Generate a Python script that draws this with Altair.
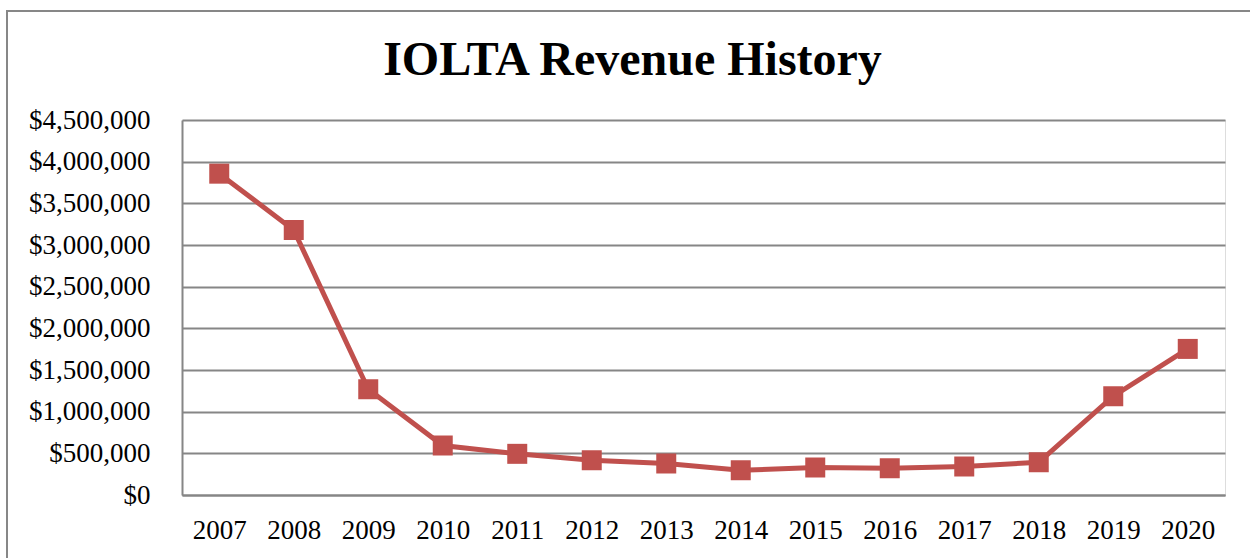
import altair as alt
import pandas as pd

years = ["2007", "2008", "2009", "2010", "2011", "2012", "2013",
         "2014", "2015", "2016", "2017", "2018", "2019", "2020"]
revenue = [3856000, 3180000, 1269000, 594000, 494000, 417000, 378000,
           297000, 330000, 321000, 342000, 393000, 1185000, 1753000]
y_ticks = [0, 500000, 1000000, 1500000, 2000000, 2500000,
           3000000, 3500000, 4000000, 4500000]

df = pd.DataFrame({"year": years, "revenue": revenue})

RED = "#C0504D"
GRID = "#868686"
FONT = "Liberation Serif"

base = alt.Chart(df).encode(
    x=alt.X("year:O", sort=years,
            scale=alt.Scale(type="point", padding=0.5),
            axis=alt.Axis(title=None, labelAngle=0, ticks=False,
                          domainColor=GRID, domainWidth=2,
                          labelFont=FONT, labelFontSize=27,
                          labelColor="#000000", labelPadding=22)),
    y=alt.Y("revenue:Q",
            scale=alt.Scale(domain=[0, 4500000], nice=False),
            axis=alt.Axis(title=None, values=y_ticks, format="$,.0f",
                          ticks=False, grid=True, gridColor=GRID,
                          gridWidth=2, domainColor=GRID, domainWidth=2,
                          labelFont=FONT, labelFontSize=27,
                          labelColor="#000000", labelPadding=32)),
)

line = base.mark_line(color=RED, strokeWidth=5)
points = base.mark_point(shape="square", size=400, filled=True,
                         color=RED, opacity=1)

frame_df = pd.DataFrame({"k": [0]})
left_border = alt.Chart(frame_df).mark_rule(
    color="#878787", strokeWidth=2).encode(
    x=alt.value(-175), y=alt.value(-109), y2=alt.value(460))
top_border = alt.Chart(frame_df).mark_rule(
    color="#878787", strokeWidth=2).encode(
    x=alt.value(-176), x2=alt.value(1080), y=alt.value(-109))

chart = alt.layer(left_border, top_border, line, points).properties(
    width=1043,
    height=375,
    title=alt.TitleParams(
        "IOLTA Revenue History", font=FONT, fontSize=48,
        fontWeight="bold", color="#000000", anchor="middle",
        frame="group", baseline="alphabetic", dx=-71, offset=-113),
    padding={"left": 182, "top": 120, "right": 25, "bottom": 63},
    autosize=alt.AutoSizeParams(type="none"),
).configure_view(stroke=None).configure(background="white")

chart.save("out.html", embed_options={"renderer": "svg", "actions": False})
